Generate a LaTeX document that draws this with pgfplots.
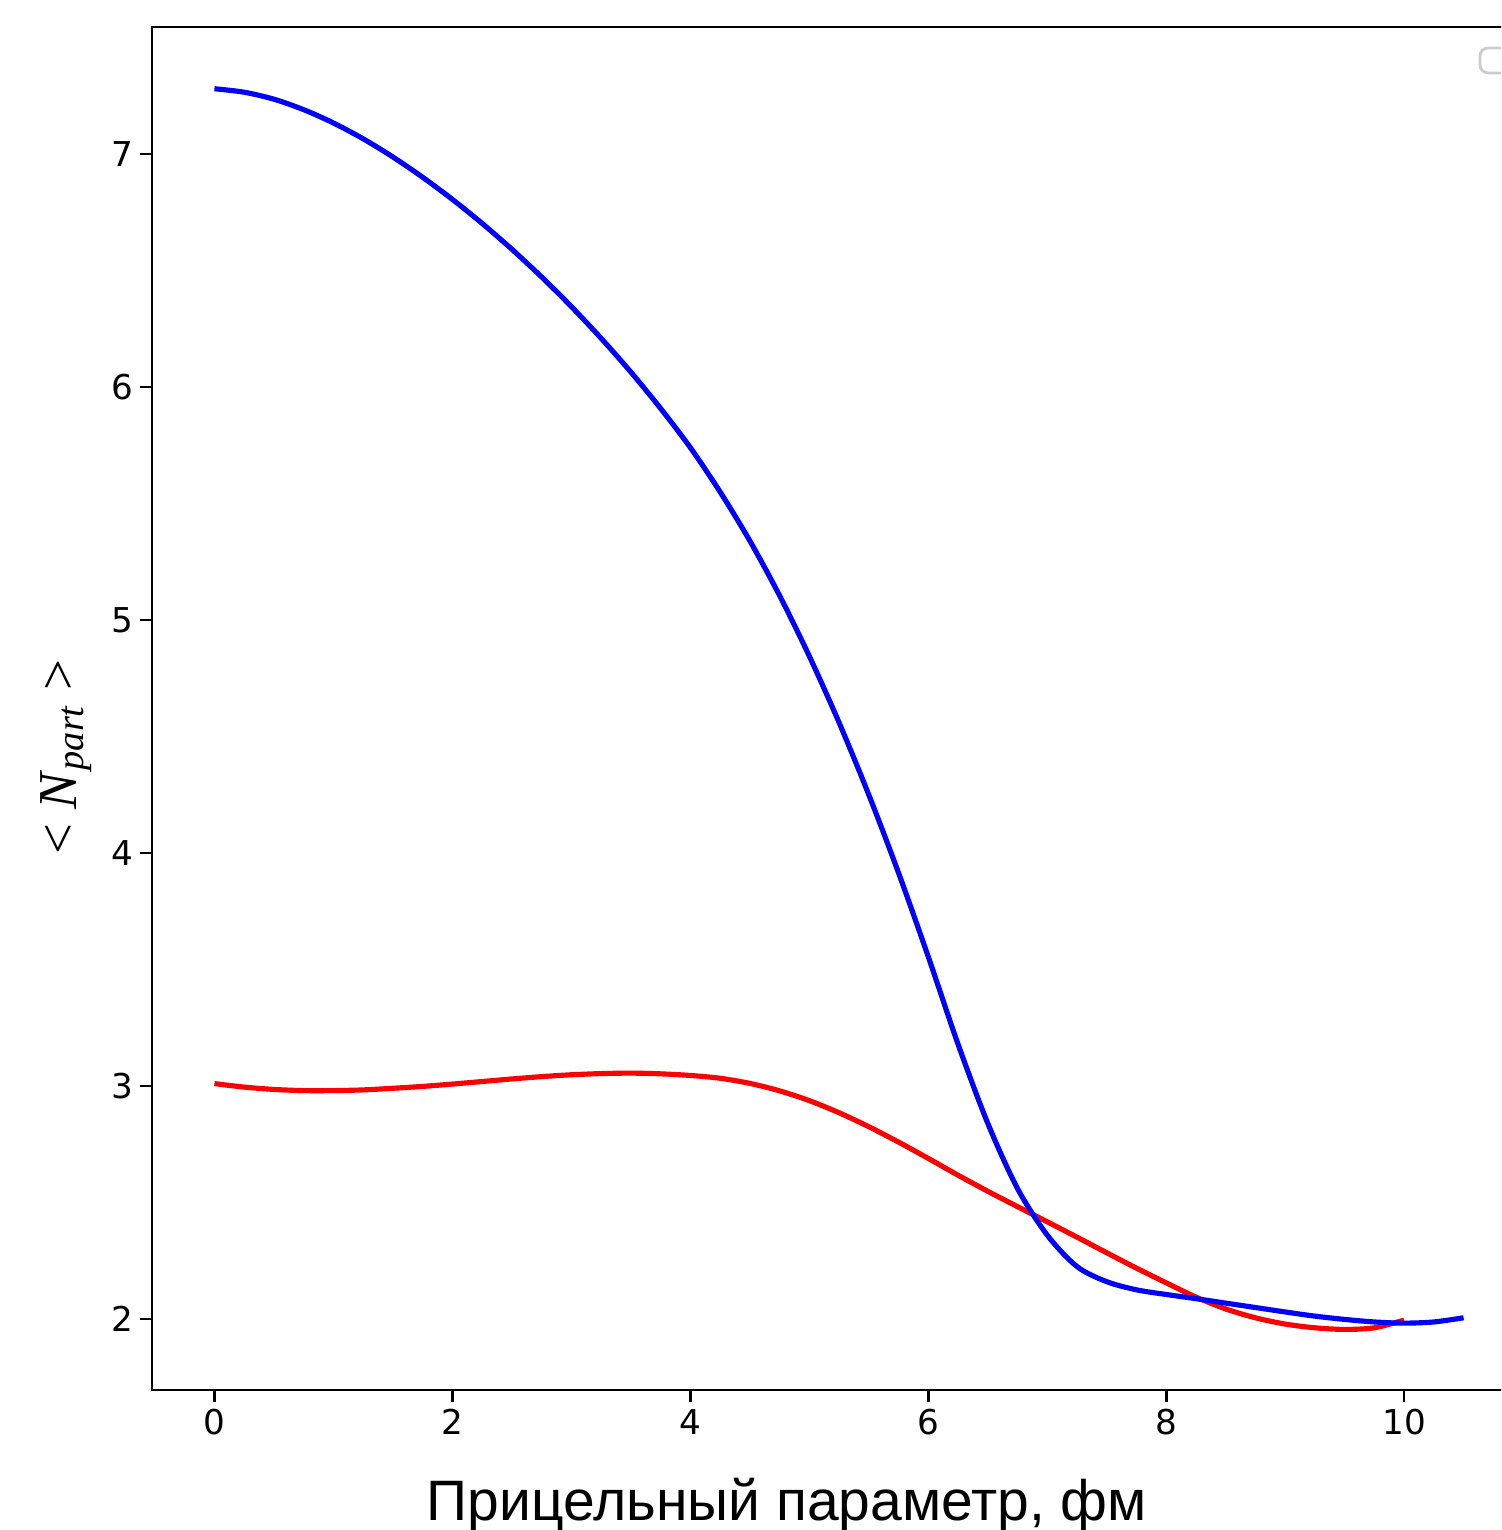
\documentclass[border=0pt]{standalone}
\usepackage{pgfplots}
\usepackage{pgfplotstable}
\pgfplotsset{compat=1.18}
\usepackage{fontspec}
\setmainfont{DejaVu Sans}
\newfontfamily\labelfont{Liberation Sans}
\newfontfamily\seriffont{Liberation Serif}

\begin{document}
% <N_part> versus impact parameter b (fm)
\pgfplotstableread{
b    n
0    7.28
0.25 7.265
0.5  7.235
0.75 7.19
1.0  7.133
1.25 7.065
1.5  6.987
1.75 6.900
2.0  6.805
2.25 6.702
2.5  6.591
2.75 6.472
3.0  6.345
3.25 6.209
3.5  6.064
3.75 5.908
4.0  5.740
4.25 5.55
4.5  5.34
4.75 5.105
5.0  4.845
5.25 4.56
5.5  4.25
5.75 3.915
6.0  3.555
6.25 3.18
6.5  2.84
6.75 2.56
7.0  2.36
7.25 2.225
7.5  2.16
7.75 2.125
8.0  2.105
8.25 2.087
8.5  2.068
8.75 2.049
9.0  2.03
9.25 2.012
9.5  1.998
9.75 1.987
10.0 1.982
10.25 1.987
10.5 2.005
}\blueseries
\pgfplotstableread{
b    n
0    3.01
0.25 2.995
0.5  2.985
0.75 2.98
1.0  2.98
1.25 2.983
1.5  2.99
1.75 2.998
2.0  3.008
2.25 3.019
2.5  3.03
2.75 3.04
3.0  3.048
3.25 3.053
3.5  3.055
3.75 3.052
4.0  3.045
4.25 3.033
4.5  3.011
4.75 2.979
5.0  2.937
5.25 2.885
5.5  2.825
5.75 2.759
6.0  2.689
6.25 2.617
6.5  2.548
6.75 2.482
7.0  2.417
7.25 2.351
7.5  2.284
7.75 2.218
8.0  2.155
8.25 2.094
8.5  2.043
8.75 2.005
9.0  1.978
9.25 1.962
9.5  1.955
9.75 1.962
10.0 1.995
}\redseries
\begin{tikzpicture}
\useasboundingbox (-76pt,-70pt) rectangle (674.5pt,695pt);
\clip (-76pt,-70pt) rectangle (674.5pt,695pt);
\begin{axis}[
  scale only axis,
  width=687pt, height=681.5pt,
  at={(0pt,0pt)}, anchor=south west,
  xmin=-0.525, xmax=11.025,
  ymin=1.695, ymax=7.545,
  xtick={0,2,4,6,8,10},
  ytick={2,3,4,5,6,7},
  tick align=outside,
  major tick length=6pt,
  tick pos=left,
  axis line style={line width=1.37pt},
  every tick/.style={black, line width=1.37pt},
  tick label style={font=\fontsize{17.1}{20}\selectfont},
  /pgf/number format/assume math mode=true,
  xlabel={\labelfont\fontsize{28.5}{32}\selectfont Прицельный параметр, фм},
  xlabel style={at={(axis description cs:0.462,-0.0954)}, anchor=base},
  ylabel={\seriffont\fontsize{27.4}{30}\selectfont <\kern7pt\textit{N}\textsubscript{\textit{part}}\kern7pt>},
  ylabel style={at={(axis description cs:-0.0553,0.4644)}, anchor=base},
]
\addplot[red, line width=2.57pt, smooth, tension=0.5, line join=round] table[x=b, y=n] {\redseries};
\addplot[blue, line width=2.57pt, smooth, tension=0.5, line join=round] table[x=b, y=n] {\blueseries};
% empty legend frame in the upper right corner
\draw[black!20, line width=1.4pt, rounded corners=4pt, fill=white]
  (rel axis cs:0.9665,0.9663) rectangle (rel axis cs:0.995,0.9846);
\end{axis}
\end{tikzpicture}
\end{document}
